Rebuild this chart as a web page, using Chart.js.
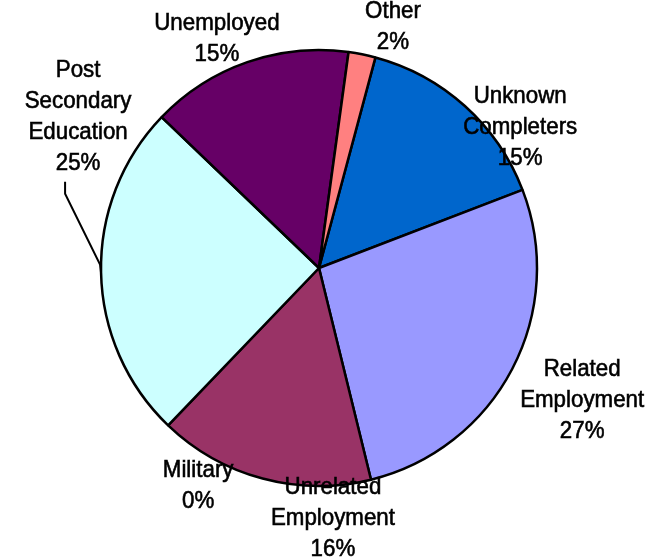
<!DOCTYPE html>
<html>
<head>
<meta charset="utf-8">
<script src="https://cdn.jsdelivr.net/npm/chart.js@4.4.0/dist/chart.umd.min.js"></script>
<style>
  html, body { margin: 0; padding: 0; background: #ffffff; }
  #wrap { width: 660px; height: 558px; }
</style>
</head>
<body>
<div id="wrap"><canvas id="pie" width="660" height="558"></canvas></div>
<script>
// slice data, clockwise from the start angle
const categories = [
    ['Unknown', 'Completers'],
    ['Related', 'Employment'],
    ['Unrelated', 'Employment'],
    ['Military'],
    ['Post', 'Secondary', 'Education'],
    ['Unemployed'],
    ['Other']
];
const percents = [15, 27, 16, 0, 25, 15, 2];
const sliceColors = ['#0066CC', '#9999FF', '#993366', '#FFFFCC', '#CCFFFF', '#660066', '#FF8080'];

// label placement: [angle from top in degrees, distance as a share of the radius]
const labelPlacement = [
    [54.9, 1.128],
    [116.6, 1.35],
    [176.8, 1.144],
    [209.1, 1.14],
    [302.2, 1.306],
    [336.1, 1.156],
    [17.0, 1.161]
];
const leaderFor = [false, false, false, false, true, false, false];

// no narrow face installed, so squeeze a regular one
const FONT = '24px "Liberation Sans", Arial, sans-serif';
const SQUEEZE = 0.93;
const LINE_H = 31;

const pieLabels = {
    id: 'pieLabels',
    afterDatasetsDraw(chart) {
        const ctx = chart.ctx;
        const arcs = chart.getDatasetMeta(0).data;
        ctx.save();
        ctx.font = FONT;
        ctx.fillStyle = '#000';
        ctx.strokeStyle = '#000';
        ctx.lineWidth = 0.6;
        ctx.textAlign = 'center';
        ctx.textBaseline = 'middle';
        arcs.forEach((arc, i) => {
            const [deg, k] = labelPlacement[i];
            const a = deg * Math.PI / 180;
            const r = arc.outerRadius * k;
            const cx = arc.x + r * Math.sin(a);
            const cy = arc.y - r * Math.cos(a);
            const lines = categories[i].concat([percents[i] + '%']);
            const top = cy - (lines.length - 1) * LINE_H / 2;
            lines.forEach((t, j) => {
                ctx.save();
                ctx.translate(cx, top + j * LINE_H + 1);
                ctx.scale(SQUEEZE, 1);
                ctx.fillText(t, 0, 0);
                ctx.strokeText(t, 0, 0);
                ctx.restore();
            });
            if (leaderFor[i]) {
                const mid = (arc.startAngle + arc.endAngle) / 2;
                const ex = arc.x + arc.outerRadius * Math.cos(mid);
                const ey = arc.y + arc.outerRadius * Math.sin(mid);
                const bottom = top + (lines.length - 1) * LINE_H + 19;
                ctx.beginPath();
                ctx.lineWidth = 2;
                ctx.moveTo(cx - 13, bottom);
                ctx.lineTo(cx - 13, bottom + 12);
                ctx.lineTo(ex - 1, ey - 8);
                ctx.lineTo(ex, ey);
                ctx.stroke();
                ctx.lineWidth = 0.6;
            }
        });
        ctx.restore();
    }
};

new Chart(document.getElementById('pie').getContext('2d'), {
    type: 'pie',
    data: {
        labels: categories.map(c => c.join(' ')),
        datasets: [{
            data: percents,
            backgroundColor: sliceColors,
            borderColor: '#000000',
            borderWidth: 2.5,
            hoverOffset: 0,
            borderAlign: 'center'
        }]
    },
    options: {
        responsive: false,
        animation: false,
        rotation: 15,
        radius: 218,
        layout: { padding: { left: 101, right: 123, top: 50, bottom: 72 } },
        plugins: {
            legend: { display: false },
            tooltip: { enabled: false }
        }
    },
    plugins: [pieLabels]
});
</script>
</body>
</html>
